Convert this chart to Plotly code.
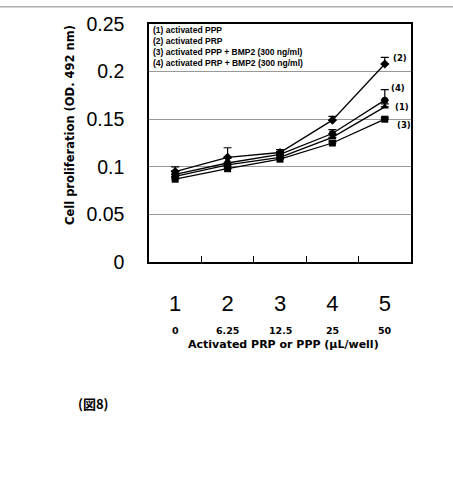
import plotly.graph_objects as go

x_pos = [1, 2, 3, 4, 5]
x_top_labels = ["1", "2", "3", "4", "5"]
x_dose_labels = ["0", "6.25", "12.5", "25", "50"]
y_ticks = [0, 0.05, 0.1, 0.15, 0.2, 0.25]
y_tick_labels = ["0", "0.05", "0.1", "0.15", "0.2", "0.25"]

series_names = ["(1)", "(2)", "(3)", "(4)"]
legend_texts = [
    "(1) activated PPP",
    "(2) activated PRP",
    "(3) activated PPP + BMP2 (300 ng/ml)",
    "(4) activated PRP + BMP2 (300 ng/ml)",
]
s1 = [0.090, 0.102, 0.110, 0.131, 0.163]
s2 = [0.095, 0.110, 0.115, 0.149, 0.208]
s3 = [0.087, 0.098, 0.108, 0.125, 0.150]
s4 = [0.092, 0.104, 0.113, 0.135, 0.170]
e1 = [0.002, 0.002, 0.002, 0.003, 0.003]
e2 = [0.005, 0.010, 0.003, 0.004, 0.007]
e3 = [0.002, 0.002, 0.002, 0.002, 0.002]
e4 = [0.004, 0.005, 0.003, 0.004, 0.011]
values = [s1, s2, s3, s4]
errors = [e1, e2, e3, e4]
symbols = ["triangle-up", "diamond", "square", "circle"]
label_shift = [(14, -1), (12, 1), (16, -6), (10, 4)]

FONT = "Liberation Sans, Arial, sans-serif"
GOTH = "DejaVu Sans, sans-serif"

fig = go.Figure()
for vals, errs, sym in zip(values, errors, symbols):
    fig.add_trace(go.Scatter(
        x=x_pos, y=vals, mode="lines+markers",
        line=dict(color="black", width=1.3),
        marker=dict(symbol=sym, size=7, color="black"),
        error_y=dict(type="data", array=errs, arrayminus=[0] * len(errs),
                     symmetric=False, color="black", thickness=1.2, width=4),
        showlegend=False,
    ))

# invisible trace on the overlay axis for the inter-category tick marks
fig.add_trace(go.Scatter(x=[1.5], y=[0], xaxis="x2", mode="markers",
                         marker=dict(opacity=0), showlegend=False, hoverinfo="skip"))

# series labels at the right end
for name, vals, errs, (dx, dy) in zip(series_names, values, errors, label_shift):
    fig.add_annotation(x=x_pos[-1], y=vals[-1] + errs[-1], text="<b>" + name + "</b>",
                       showarrow=False, xanchor="left", yanchor="middle",
                       xshift=dx - 6, yshift=dy - 2,
                       font=dict(family=GOTH, size=8.5, color="black"))

# legend text block
leg_y = [0.975, 0.929, 0.882, 0.836]
for t, yy in zip(legend_texts, leg_y):
    fig.add_annotation(x=0.008, y=yy, xref="paper", yref="paper", text="<b>" + t + "</b>",
                       showarrow=False, xanchor="left", yanchor="middle",
                       font=dict(family=FONT, size=8.5, color="black"))

# dose labels row
for xp, lab in zip(x_pos, x_dose_labels):
    fig.add_annotation(x=xp, y=0, yref="paper", text="<b>" + lab + "</b>",
                       showarrow=False, yanchor="middle", yshift=-68,
                       font=dict(family=GOTH, size=9.5, color="black"))

fig.add_annotation(x=0.5, y=0, xref="paper", yref="paper",
                   text="<b>Activated PRP or PPP (\u03bcL/well)</b>",
                   showarrow=False, yanchor="middle", yshift=-82, xshift=3,
                   font=dict(family=GOTH, size=11, color="black"))

fig.add_annotation(x=0, y=0, xref="paper", yref="paper",
                   text="<b>Cell proliferation (OD. 492 nm)</b>", textangle=-90,
                   showarrow=False, xanchor="center", yanchor="middle",
                   xshift=-79, yshift=137,
                   font=dict(family=GOTH, size=11.5, color="black"))

fig.add_annotation(x=0, y=0, xref="paper", yref="paper",
                   text="<b>(\u56f38)</b>", showarrow=False,
                   xanchor="left", yanchor="middle", xshift=-73, yshift=-141,
                   font=dict(family="Noto Sans CJK JP, sans-serif", size=13, color="black"))

# decorative page border line at top
fig.add_shape(type="line", xref="paper", yref="paper", x0=-0.6, x1=1.2,
              y0=1.072, y1=1.072, line=dict(color="#b0b0b0", width=1.5))

fig.update_layout(
    width=453, height=486,
    margin=dict(l=149, r=42, t=24, b=224),
    paper_bgcolor="white", plot_bgcolor="white",
    xaxis=dict(range=[0.5, 5.5], tickvals=x_pos, ticktext=x_top_labels,
               showgrid=False, zeroline=False, ticks="", ticklabelstandoff=21,
               tickfont=dict(family=FONT, size=22, color="black"),
               showline=True, linecolor="black", linewidth=1.5, mirror=True),
    xaxis2=dict(range=[0.5, 5.5], overlaying="x", tickvals=[1.5, 2.5, 3.5, 4.5],
                ticks="inside", ticklen=6, tickcolor="black", tickwidth=1,
                showticklabels=False, showgrid=False, zeroline=False, side="bottom"),
    yaxis=dict(range=[0, 0.25], tickvals=y_ticks, ticktext=y_tick_labels,
               showgrid=True, gridcolor="#999999", gridwidth=1, zeroline=False,
               ticks="", ticklabelstandoff=19,
               tickfont=dict(family=FONT, size=19.5, color="black"),
               showline=True, linecolor="black", linewidth=1.5, mirror=True),
)

fig.write_html("out.html")
